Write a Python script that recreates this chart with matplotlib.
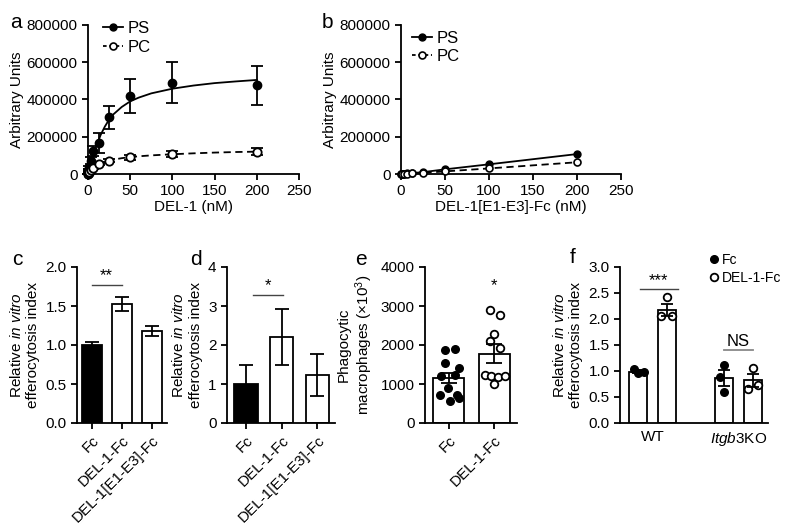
import matplotlib.pyplot as plt
from matplotlib.lines import Line2D

plt.rcParams['font.family'] = ['Liberation Sans', 'DejaVu Sans']
plt.rcParams['mathtext.fontset'] = 'custom'
plt.rcParams['mathtext.rm'] = 'Liberation Sans'
plt.rcParams['mathtext.it'] = 'Liberation Sans:italic'
plt.rcParams['font.size'] = 11
plt.rcParams['axes.linewidth'] = 1.3
plt.rcParams['xtick.major.width'] = 1.3
plt.rcParams['ytick.major.width'] = 1.3
plt.rcParams['xtick.major.size'] = 4
plt.rcParams['ytick.major.size'] = 4

# ---- panel a / b data (binding curves) ----
conc = [0, 0.78, 1.56, 3.125, 6.25, 12.5, 25, 50, 100, 200]
a_ps = [0, 20000, 35000, 72000, 124000, 168000, 304000, 419000, 490000, 476000]
a_ps_err = [0, 5000, 10000, 18000, 25000, 54000, 60000, 90000, 110000, 105000]
a_pc = [0, 7000, 12500, 21000, 30000, 52000, 70000, 89500, 107000, 120000]
a_pc_err = [0, 2000, 3000, 4000, 5000, 6000, 8000, 13000, 18000, 20000]

fit_x = [0, 2, 4, 6, 8, 10, 12.5, 15, 20, 25, 30, 40, 50, 60, 75, 100, 125, 150, 175, 200]
fit_ps = [0, 25000, 60000, 95000, 125000, 150000, 180000, 210000, 255000, 292000,
          320000, 360000, 390000, 410000, 433000, 458000, 475000, 488000, 497000, 505000]
fit_pc = [0, 14000, 26000, 35000, 42000, 48000, 54000, 59000, 66000, 72000,
          77000, 85000, 91000, 95000, 100000, 106000, 111000, 115000, 118000, 120000]

b_ps = [0, 500, 1000, 2000, 3000, 5000, 10000, 25000, 52000, 107000]
b_pc = [0, 300, 600, 1000, 2000, 3000, 6000, 14000, 30000, 63000]

# ---- panel c ----
c_labels = ['Fc', 'DEL-1-Fc', 'DEL-1[E1-E3]-Fc']
c_vals = [1.0, 1.53, 1.18]
c_err = [0.04, 0.09, 0.07]

# ---- panel d ----
d_labels = ['Fc', 'DEL-1-Fc', 'DEL-1[E1-E3]-Fc']
d_vals = [1.0, 2.2, 1.23]
d_err = [0.48, 0.72, 0.55]

# ---- panel e ----
e_labels = ['Fc', 'DEL-1-Fc']
e_fc = [1870, 1900, 1550, 1410, 1200, 1230, 890, 710, 730, 560, 630]
e_fc_jit = [-0.07, 0.13, -0.07, 0.23, -0.16, 0.13, -0.02, -0.2, 0.18, 0.02, 0.23]
e_del = [2910, 2760, 2290, 2110, 1930, 1230, 1200, 1170, 1200, 1000]
e_del_jit = [-0.09, 0.12, 0.0, -0.09, 0.12, -0.21, -0.07, 0.08, 0.23, 0.0]
e_means = [1150, 1780]
e_sem = [130, 240]

# ---- panel f ----
f_groups = ['WT', '$\\it{Itgb3}$KO']
f_means = [0.99, 2.17, 0.86, 0.82]
f_sem = [0.03, 0.12, 0.15, 0.12]
f_points = [[1.04, 0.96, 0.98], [2.42, 2.05, 2.05], [1.12, 0.88, 0.59], [1.05, 0.66, 0.74]]
f_jit = [[-0.14, 0.0, 0.19], [0.0, -0.2, 0.17], [0.0, -0.16, 0.0], [0.0, -0.17, 0.19]]

fig = plt.figure(figsize=(8, 5.28), dpi=100)
W, H = 800, 528


def add_ax(left, right, top, bottom):
    ax = fig.add_axes([left / W, 1 - bottom / H, (right - left) / W, (bottom - top) / H])
    ax.spines['top'].set_visible(False)
    ax.spines['right'].set_visible(False)
    return ax


# panel a
ax = add_ax(88, 299, 25, 174)
ax.plot(fit_x, fit_ps, color='black', lw=1.3)
ax.plot(fit_x, fit_pc, color='black', lw=1.3, ls=(0, (4, 2.5)))
ax.errorbar(conc, a_ps, yerr=a_ps_err, fmt='o', color='black', ms=6, capsize=4,
            elinewidth=1.3, capthick=1.3, clip_on=False, zorder=3)
ax.errorbar(conc, a_pc, yerr=a_pc_err, fmt='o', color='black', mfc='white', mew=1.3,
            ms=6, capsize=4, elinewidth=1.3, capthick=1.3, clip_on=False, zorder=3)
ax.set_xlim(0, 250)
ax.set_ylim(0, 800000)
ax.set_xticks([0, 50, 100, 150, 200, 250])
ax.set_yticks([0, 200000, 400000, 600000, 800000])
ax.ticklabel_format(style='plain', axis='y', useOffset=False)
ax.set_xlabel('DEL-1 (nM)', labelpad=1)
ax.set_ylabel('Arbitrary Units', labelpad=2)
h = [Line2D([], [], color='black', marker='o', ms=5, lw=1.3),
     Line2D([], [], color='black', marker='o', mfc='white', mew=1.2, ms=5, lw=1.3, ls=(0, (2, 1.5)))]
ax.legend(h, ['PS', 'PC'], loc='upper left', bbox_to_anchor=(0.0, 1.13), frameon=False,
          handlelength=1.2, handletextpad=0.3, labelspacing=0.25, fontsize=12)

# panel b
ax = add_ax(401, 621, 25, 174)
ax.plot(conc, b_ps, color='black', lw=1.3, marker='o', ms=5, clip_on=False, zorder=3)
ax.plot(conc, b_pc, color='black', lw=1.3, ls=(0, (4, 2.5)), marker='o', ms=5,
        mfc='white', mew=1.2, clip_on=False, zorder=3)
ax.set_xlim(0, 250)
ax.set_ylim(0, 800000)
ax.set_xticks([0, 50, 100, 150, 200, 250])
ax.set_yticks([0, 200000, 400000, 600000, 800000])
ax.ticklabel_format(style='plain', axis='y', useOffset=False)
ax.set_xlabel('DEL-1[E1-E3]-Fc (nM)', labelpad=1)
ax.set_ylabel('Arbitrary Units', labelpad=2)
h = [Line2D([], [], color='black', marker='o', ms=5, lw=1.3),
     Line2D([], [], color='black', marker='o', mfc='white', mew=1.2, ms=5, lw=1.3, ls=(0, (2, 1.5)))]
ax.legend(h, ['PS', 'PC'], loc='upper left', bbox_to_anchor=(-0.02, 1.06), frameon=False,
          handlelength=1.2, handletextpad=0.3, labelspacing=0.15, fontsize=12)

eff_label = 'Relative $\\it{in\\ vitro}$\nefferocytosis index'


def bar_panel(ax, labels, vals, err, width, xlim):
    x = list(range(len(vals)))
    colors = ['black'] + ['white'] * (len(vals) - 1)
    ax.bar(x, vals, width=width, color=colors, edgecolor='black', linewidth=1.3, zorder=2)
    ax.errorbar(x, vals, yerr=err, fmt='none', ecolor='black', elinewidth=1.3,
                capsize=5, capthick=1.3, zorder=3)
    ax.set_xlim(*xlim)
    ax.set_xticks(x)
    ax.set_xticklabels(labels, rotation=45, ha='right', rotation_mode='anchor')


# panel c
ax = add_ax(77, 167, 267, 423)
bar_panel(ax, c_labels, c_vals, c_err, 0.66, (-0.48, 2.49))
ax.set_ylim(0, 2.0)
ax.set_yticks([0, 0.5, 1.0, 1.5, 2.0])
ax.set_yticklabels(['0.0', '0.5', '1.0', '1.5', '2.0'])
ax.set_ylabel(eff_label, labelpad=4)
ax.plot([0, 1], [1.77, 1.77], color='#444444', lw=1)
ax.text(0.5, 1.79, '**', ha='center', va='bottom', fontsize=12)

# panel d
ax = add_ax(227, 335, 267, 423)
bar_panel(ax, d_labels, d_vals, d_err, 0.65, (-0.535, 2.5))
ax.set_ylim(0, 4)
ax.set_yticks([0, 1, 2, 3, 4])
ax.set_ylabel(eff_label, labelpad=4)
ax.plot([0.2, 1.05], [3.28, 3.28], color='#444444', lw=1)
ax.text(0.62, 3.32, '*', ha='center', va='bottom', fontsize=12)

# panel e
ax = add_ax(425, 517, 267, 423)
ax.bar([0, 1], e_means, width=0.68, color='white', edgecolor='black', linewidth=1.3, zorder=2)
ax.errorbar([0, 1], e_means, yerr=e_sem, fmt='none', ecolor='black', elinewidth=1.3,
            capsize=6, capthick=1.3, zorder=4)
ax.scatter([0 + j for j in e_fc_jit], e_fc, s=30, color='black', zorder=3)
ax.scatter([1 + j for j in e_del_jit], e_del, s=30, facecolor='white', edgecolor='black',
           linewidth=1.3, zorder=3)
ax.set_xlim(-0.52, 1.5)
ax.set_ylim(0, 4000)
ax.set_yticks([0, 1000, 2000, 3000, 4000])
ax.set_xticks([0, 1])
ax.set_xticklabels(e_labels, rotation=45, ha='right', rotation_mode='anchor')
ax.set_ylabel('Phagocytic\nmacrophages (×10$^3$)', labelpad=4)
ax.text(1, 3330, '*', ha='center', va='bottom', fontsize=12)

# panel f
ax = add_ax(620, 768, 267, 423)
fx = [0, 1, 3, 4]
ax.bar(fx, f_means, width=0.63, color='white', edgecolor='black', linewidth=1.3, zorder=2)
ax.errorbar(fx, f_means, yerr=f_sem, fmt='none', ecolor='black', elinewidth=1.3,
            capsize=4, capthick=1.3, zorder=4)
for i, (pts, jit) in enumerate(zip(f_points, f_jit)):
    xs = [fx[i] + j for j in jit]
    if i % 2 == 0:
        ax.scatter(xs, pts, s=30, color='black', zorder=3)
    else:
        ax.scatter(xs, pts, s=30, facecolor='white', edgecolor='black', linewidth=1.3, zorder=3)
ax.set_xlim(-0.63, 4.53)
ax.set_ylim(0, 3.0)
ax.set_yticks([0, 0.5, 1.0, 1.5, 2.0, 2.5, 3.0])
ax.set_yticklabels(['0.0', '0.5', '1.0', '1.5', '2.0', '2.5', '3.0'])
ax.set_xticks([0.5, 3.5])
ax.set_xticklabels(f_groups)
ax.tick_params(axis='x', length=0, pad=5)
ax.set_ylabel(eff_label, labelpad=4)
ax.plot([0.05, 1.4], [2.58, 2.58], color='#444444', lw=1)
ax.text(0.72, 2.6, '***', ha='center', va='bottom', fontsize=12)
ax.plot([3, 4], [1.4, 1.4], color='#888888', lw=1.3)
ax.text(3.5, 1.43, 'NS', ha='center', va='bottom', fontsize=12)
h = [Line2D([], [], color='black', marker='o', ls='none', ms=5.5),
     Line2D([], [], color='black', marker='o', mfc='white', mew=1.3, ls='none', ms=5.5)]
ax.legend(h, ['Fc', 'DEL-1-Fc'], loc='upper left', bbox_to_anchor=(0.52, 1.17), frameon=False,
          handlelength=0.7, handletextpad=0.2, labelspacing=0.3, fontsize=10)

# panel letters
for lab, px, py in [('a', 10, 28), ('b', 322, 28), ('c', 12, 265), ('d', 190, 265),
                    ('e', 355, 265), ('f', 570, 263)]:
    fig.text(px / W, 1 - py / H, lab, fontsize=15, va='baseline', ha='left')

fig.savefig('out.png', dpi=100)
